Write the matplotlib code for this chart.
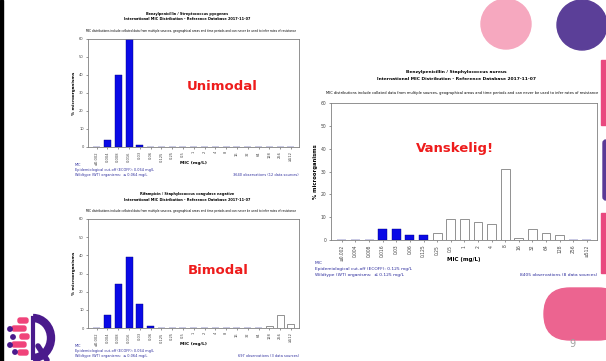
import matplotlib
matplotlib.use("Agg")
import matplotlib.pyplot as plt
from matplotlib.patches import Circle, Rectangle, FancyBboxPatch, Arc

W, H = 606, 361

mic_labels = ["≤0.002", "0.004", "0.008", "0.016", "0.03", "0.06", "0.125", "0.25",
              "0.5", "1", "2", "4", "8", "16", "32", "64", "128", "256", "≥512"]

# % microorganisms per MIC class, split into wild type (blue) and non-wild type (white)
pyo_wt  = [0, 4, 40, 61, 1, 0, 0, 0, 0, 0, 0, 0, 0, 0, 0, 0, 0, 0, 0]
pyo_nwt = [0] * 19

cons_wt  = [0, 7, 24, 39, 13, 1, 0, 0, 0, 0, 0, 0, 0, 0, 0, 0, 0, 0, 0]
cons_nwt = [0, 0, 0, 0, 0, 0, 0, 0, 0, 0, 0, 0, 0, 0, 0, 0, 1, 7, 2]

aur_wt  = [0, 0, 0, 5, 5, 2, 2, 0, 0, 0, 0, 0, 0, 0, 0, 0, 0, 0, 0]
aur_nwt = [0, 0, 0, 0, 0, 0, 0, 3, 9, 9, 8, 7, 31, 1, 5, 3, 2, 0, 0]

NOTE = ("MIC distributions include collated data from multiple sources, geographical areas "
        "and time periods and can never be used to infer rates of resistance")
SUB = "International MIC Distribution - Reference Database 2017-11-07"
BLUE = "#0a0ae6"
FOOT = "#2b2b9c"


def fx(x):
    return x / W


def fy(y):
    return 1 - y / H


fig = plt.figure(figsize=(W / 100, H / 100), dpi=100)
fig.patch.set_facecolor("white")

# background decoration in pixel coordinates
bg = fig.add_axes([0, 0, 1, 1], zorder=0)
bg.set_xlim(0, W)
bg.set_ylim(H, 0)
bg.axis("off")
bg.add_patch(Rectangle((0, 0), 2.5, H, color="black"))
bg.add_patch(Circle((506, 24), 25, color="#f6a8bf"))
bg.add_patch(Circle((582, 25), 25, color="#5b3f98"))
bg.add_patch(Rectangle((601, 60), 8, 65, color="#e9497f"))
bg.add_patch(FancyBboxPatch((603, 140), 6, 60, boxstyle="round,pad=0,rounding_size=3",
                            color="#5b3a96"))
bg.add_patch(Rectangle((601, 213), 8, 60, color="#e9497f"))
bg.add_patch(FancyBboxPatch((544, 288), 80, 52, boxstyle="round,pad=0,rounding_size=26",
                            color="#ec6490"))
bg.text(572, 344, "9", color="#a0a0a0", fontsize=7, ha="center", va="center")

# logo bottom left
bg.add_patch(Arc((33, 338), 36, 40, theta1=-90, theta2=90, color="#4a1a8c", lw=6))
bg.plot([33, 33], [318, 358], color="#4a1a8c", lw=3)
bg.plot([38, 47], [346, 360], color="#4a1a8c", lw=4, solid_capstyle="round")
for (bx, by, bw) in [(18, 318, 10), (12, 326, 14), (20, 334, 9), (12, 342, 14),
                     (18, 350, 10)]:
    bg.add_patch(FancyBboxPatch((bx, by), bw, 5, boxstyle="round,pad=0,rounding_size=2",
                                color="#f0437a"))
for (cx, cy) in [(10, 329), (13, 337), (10, 345), (15, 352)]:
    bg.add_patch(Circle((cx, cy), 2.2, color="#4a1a8c"))


def mic_chart(box, wt, nwt, title, ecoff, obs, big, big_xy, scale=1.0):
    x0, y0, x1, y1 = box
    ax = fig.add_axes([fx(x0), fy(y1), fx(x1 - x0), (y1 - y0) / H], zorder=2)
    xs = range(len(mic_labels))
    ax.bar(xs, wt, width=0.65, color=BLUE, edgecolor="#000080", lw=0.3)
    ax.bar(xs, nwt, bottom=0, width=0.65, color="white", edgecolor="#808080", lw=0.6)
    ax.set_xlim(-0.8, 18.75)
    ax.set_ylim(0, 60)
    ax.set_yticks(range(0, 61, 10))
    ax.set_xticks(list(xs))
    ax.set_xticklabels(mic_labels, rotation=90)
    ax.tick_params(axis="both", labelsize=2.6 * scale, length=1.5, width=0.4,
                   pad=1.5 * scale, colors="#444444")
    for s in ax.spines.values():
        s.set_color("#808080")
        s.set_linewidth(0.6)
    ax.set_ylabel("% microorganisms", fontsize=3.0 * scale, fontweight="bold", labelpad=2)
    cx = (x0 + x1) / 2
    fig.text(fx(cx), fy(y1 + 16 * scale), "MIC (mg/L)", fontsize=3.2 * scale,
             fontweight="bold", ha="center", va="center")

    tx = x0 + (x1 - x0) * 0.47
    fig.text(fx(tx), fy(y0 - 25 * scale), title, fontsize=2.5 * scale,
             fontweight="bold", ha="center", va="center")
    fig.text(fx(tx), fy(y0 - 19.5 * scale), SUB, fontsize=2.5 * scale,
             fontweight="bold", ha="center", va="center")
    fig.text(fx(cx - 2), fy(y0 - 8 * scale), NOTE, fontsize=2.1 * scale,
             ha="center", va="center")

    fx0 = x0 - 13 * scale
    fb = y1 + 18 * scale
    lines = ["MIC", "Epidemiological cut-off (ECOFF): %s mg/L" % ecoff,
             "Wildtype (WT) organisms:  \u2264 %s mg/L" % ecoff]
    for i, ln in enumerate(lines):
        fig.text(fx(fx0), fy(fb + 5 * scale * i), ln, fontsize=2.5 * scale,
                 color=FOOT, ha="left", va="center")
    fig.text(fx(x1), fy(fb + 10 * scale), obs, fontsize=2.5 * scale,
             color=FOOT, ha="right", va="center")

    fig.text(fx(big_xy[0]), fy(big_xy[1]), big, fontsize=9.5, fontweight="bold",
             color="#ee1c1c", ha="center", va="center", zorder=5)
    return ax


mic_chart((88, 39, 299, 147), pyo_wt, pyo_nwt,
          "Benzylpenicillin / Streptococcus pyogenes", "0.064",
          "3640 observations (12 data sources)", "Unimodal", (222, 86))
mic_chart((88, 219, 299, 328), cons_wt, cons_nwt,
          "Rifampicin / Staphylococcus coagulase negative", "0.064",
          "697 observations (3 data sources)", "Bimodal", (218, 271))
mic_chart((331, 103, 597, 240), aur_wt, aur_nwt,
          "Benzylpenicillin / Staphylococcus aureus", "0.125",
          "8405 observations (8 data sources)", "Vanskelig!", (455, 148), scale=1.25)

fig.savefig("out.png", dpi=100)
